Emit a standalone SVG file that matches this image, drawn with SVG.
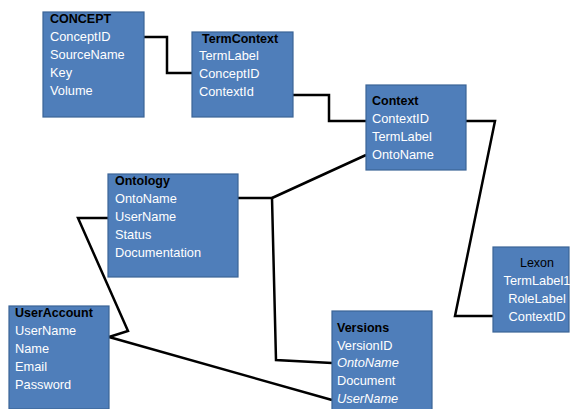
<svg xmlns="http://www.w3.org/2000/svg" width="570" height="409" viewBox="0 0 570 409">
<style>
.box{fill:#4F7EBA;stroke:#3B6497;stroke-width:1.2}
.t{font-family:"Liberation Sans",Arial,sans-serif;font-size:12.5px;font-weight:bold;fill:#000}
.f{font-family:"Liberation Sans",Arial,sans-serif;font-size:12.8px;fill:#fff}
.i{font-style:italic}
.c{text-anchor:middle}
.n{font-weight:normal}
.ln{fill:none;stroke:#000;stroke-width:2.5;stroke-linejoin:miter}
</style>
<rect width="570" height="409" fill="#fff"/>
<g id="connectors">
<polyline class="ln" points="144,37 167,37 167,73 192,73"/>
<polyline class="ln" points="293,95 329,95 329,121 366,121"/>
<polyline class="ln" points="466,121 495,121 455,316 493,316"/>
<polyline class="ln" points="366,155 272,198"/>
<polyline class="ln" points="238,198 272,198 276,360 332,363"/>
<polyline class="ln" points="108,218 78,218 128,331 109,337"/>
<polyline class="ln" points="109,337 332,400"/>
</g>
<g id="CONCEPT">
<rect class="box" x="43" y="12" width="101" height="105"/>
<text class="t" x="50" y="23">CONCEPT</text>
<text class="f" x="50" y="41">ConceptID</text>
<text class="f" x="50" y="59">SourceName</text>
<text class="f" x="50" y="77">Key</text>
<text class="f" x="50" y="95">Volume</text>
</g>
<g id="TermContext">
<rect class="box" x="192" y="32" width="101" height="85"/>
<text class="t" x="202" y="43">TermContext</text>
<text class="f" x="199" y="60">TermLabel</text>
<text class="f" x="199" y="78">ConceptID</text>
<text class="f" x="199" y="96">ContextId</text>
</g>
<g id="Context">
<rect class="box" x="366" y="85" width="100" height="85"/>
<text class="t" x="372" y="105">Context</text>
<text class="f" x="372" y="123">ContextID</text>
<text class="f" x="372" y="141">TermLabel</text>
<text class="f" x="372" y="159">OntoName</text>
</g>
<g id="Ontology">
<rect class="box" x="108" y="174" width="130" height="103"/>
<text class="t" x="115" y="185">Ontology</text>
<text class="f" x="115" y="203">OntoName</text>
<text class="f" x="115" y="221">UserName</text>
<text class="f" x="115" y="239">Status</text>
<text class="f" x="115" y="257">Documentation</text>
</g>
<g id="Lexon">
<rect class="box" x="493" y="247" width="76" height="85"/>
<text class="t c n" x="537" y="267">Lexon</text>
<text class="f c" x="537" y="285">TermLabel1</text>
<text class="f c" x="537" y="303">RoleLabel</text>
<text class="f c" x="537" y="321">ContextID</text>
</g>
<g id="UserAccount">
<rect class="box" x="9" y="306" width="100" height="103"/>
<text class="t" x="15" y="317">UserAccount</text>
<text class="f" x="15" y="335">UserName</text>
<text class="f" x="15" y="353">Name</text>
<text class="f" x="15" y="371">Email</text>
<text class="f" x="15" y="389">Password</text>
</g>
<g id="Versions">
<rect class="box" x="332" y="311" width="100" height="100"/>
<text class="t" x="337" y="332">Versions</text>
<text class="f" x="337" y="350">VersionID</text>
<text class="f i" x="337" y="367">OntoName</text>
<text class="f" x="337" y="385">Document</text>
<text class="f i" x="337" y="403">UserName</text>
</g>
</svg>
